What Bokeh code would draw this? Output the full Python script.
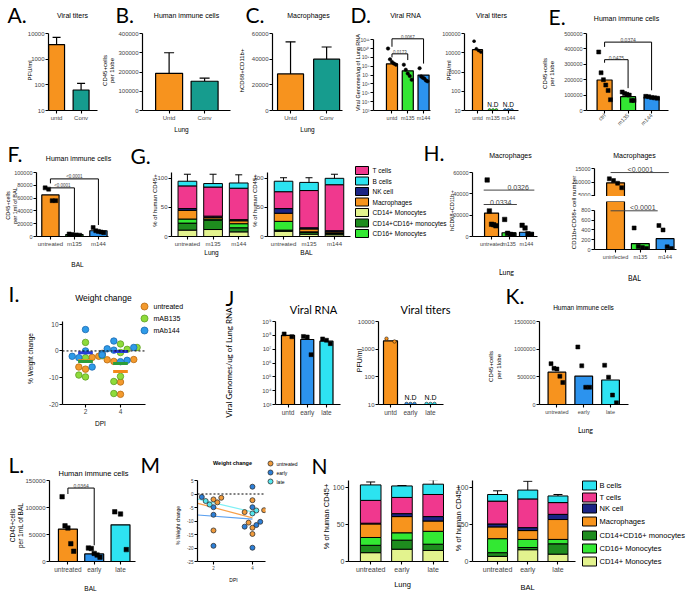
import numpy as np
from bokeh.plotting import figure
from bokeh.layouts import row, column
from bokeh.models import (Range1d, FixedTicker, Label, Whisker, TeeHead, Span,
                          ColumnDataSource, GridBox)
from bokeh.core.properties import value
from bokeh.embed import file_html
from bokeh.resources import INLINE

PI2 = np.pi / 2

# ====================== DATA ======================
a_cats = ["untd", "Conv"]
a_mean = [3700, 63]
a_err = [3400, 52]

b_cats = ["Untd", "Conv"]
b_mean = [193000, 152000]
b_err = [107000, 16000]

c_cats = ["Untd", "Conv"]
c_mean = [28500, 40000]
c_err = [25000, 9500]

d1_cats = ["untd", "m135", "m144"]
d1_mean = [1.9e8, 3.0e7, 1.0e7]
d1_pts = [[1.0e10, 6e8, 3e8, 2e8, 1.5e8], [1.5e8, 4e7, 1.5e7, 8e6, 3e6],
          [6e7, 7e6, 5e6, 4e6, 2.5e6, 2e6]]
d1_pvals = ["0.0173", "0.0067"]
d1_pairs = [(0, 1), (0, 2)]
d1_levels = [10 ** 9.4, 10 ** 11.1]
d1_drops = [(10 ** 9.0, 10 ** 8.7), (10 ** 10.2, 10 ** 8.3)]
d1_ticks = [1e3, 1e4, 1e5, 1e6, 1e7, 1e8, 1e9, 1e10, 1e11]
d1_ticklabels = ["10³", "10⁴", "10⁵", "10⁶", "10⁷", "10⁸", "10⁹", "10¹⁰", "10¹¹"]

d2_cats = ["untd", "m135", "m144"]
d2_mean = [14400, 10, 10]
d2_pts = [[40000, 16000, 13000, 11000], [10.5, 10.5, 10.5], [10.5, 10.5, 10.5]]
d2_notes = ["", "N.D", "N.D"]

e_cats = ["ctrl", "m135", "m144"]
e_mean = [198000, 90000, 87000]
e_pts = [[380000, 245000, 200000, 165000, 130000, 70000],
         [120000, 110000, 105000, 100000, 65000, 65000],
         [92000, 90000, 85000, 82000, 80000]]
e_pvals = ["0.0475", "0.0374"]
e_pairs = [(0, 1), (0, 2)]
e_levels = [330000, 444000]
e_drops = [(310000, 145000), (413000, 131000)]

f_cats = ["untreated", "m135", "m144"]
f_mean = [65000, 3000, 9000]
f_pts = [[76000, 74000, 56000, 56000], [4000, 3000, 2500, 2000],
         [14000, 9000, 8000, 7000, 6000]]
f_pvals = ["<0.0001", "<0.0001"]
f_pairs = [(0, 1), (0, 2)]
f_levels = [76000, 90000]
f_drops = [(76000, 7000), (83000, 18000)]

cell_types = ["CD14+ Monocytes", "CD14+CD16+ monocytes", "CD16+ Monocytes",
              "Macrophages", "NK cell", "T cells", "B cells"]
g_groups = ["untreated", "m135", "m144"]
g_lung = [[11, 12, 8], [12, 16, 7], [7, 2, 7], [15, 3, 5], [3, 2, 2], [39, 50, 54], [8, 6, 9]]
g_lung_err = [[3, 2, 2], [5, 0, 3], [4, 0, 3], [6, 4, 2], [7, 5, 5], [0, 0, 0], [12, 16, 14]]
g_bal = [[9, 4, 3], [2, 3, 2], [15, 1, 1], [14, 5, 2], [8, 2, 2], [29, 64, 79], [18, 14, 11]]
g_bal_err = [[0, 0, 0], [3, 2, 1], [3, 0, 0], [8, 3, 1], [8, 5, 2], [0, 0, 0], [6, 8, 7]]

h1_cats = ["untreated", "m135", "m144"]
h1_mean = [22000, 3500, 4000]
h1_pts = [[53000, 24000, 11500, 11000, 10000], [16000, 3000, 2000, 1500],
          [10500, 8000, 2500, 1500]]
h1_pvals = ["0.0334", "0.0326"]
h1_pairs = [(0, 1), (0, 2)]
h1_levels = [30000, 43500]

h2_cats = ["uninfected", "m135", "m144"]
h2_mean = [9750, 120, 220]
h2_pts = [[11250, 10600, 9600, 7900], [440, 60, 40, 20], [490, 400, 54, 20]]
h2_pvals = ["<0.0001", "<0.0001"]
h2_levels = [13600, 790]

i_groups = ["untreated", "mAB135", "mAb144"]
i_dpis = [2, 4]
i_dpi2 = [[-0.9, -2.0, -2.4, -6.0, -6.8], [3.2, -1.8, -2.5, -9.0, -9.7],
          [8.0, 0.0, -1.0, -1.5, -2.0, -2.5, -6.0]]
i_dpi4 = [[-3.2, -3.3, -3.9, -11.6, -16.2], [2.6, 1.3, 0.6, -0.6, -9.5, -11.4, -15.9],
          [3.7, 1.3, 0.8, 0.3, -3.5, -4.0]]

j_cats = ["untd", "early", "late"]
j1_mean = [1.0e8, 5.0e7, 3.8e7]
j1_pts = [[1.26e8, 7.9e7], [8.3e7, 7.6e7, 4.0e6], [5.5e7, 4.4e7, 2.5e7]]
j1_ticks = [1e3, 1e4, 1e5, 1e6, 1e7, 1e8, 1e9]
j1_ticklabels = ["10³", "10⁴", "10⁵", "10⁶", "10⁷", "10⁸", "10⁹"]
j2_mean = [2000, 10, 10]
j2_pts = [[2400, 1900], [10.5, 10.5, 10.5], [10.5, 10.5, 10.5]]
j2_notes = ["", "N.D", "N.D"]

k_cats = ["untreated", "early", "late"]
k_mean = [585000, 511000, 443000]
k_pts = [[738000, 653000, 642000, 511000, 398000], [1040000, 699000, 312000, 312000],
         [710000, 494000, 170000, 30000]]

l_cats = ["untreated", "early", "late"]
l_mean = [60000, 14000, 68000]
l_pts = [[120000, 66000, 62000, 33000, 19000], [25000, 24000, 15000, 12000, 8000],
         [92000, 88000, 22000]]
l_pvals = ["0.0364"]
l_pairs = [(0, 1)]
l_levels = [136000]
l_drops = [(125000, 30000)]

m_groups = ["untreated", "early", "late"]
m_dpis = [2, 4]
m_dpi2 = [[-1.4, -2.0, -3.1, -13.5], [-1.1, -4.9, -7.7, -19.2], [-2.6, -3.9]]
m_dpi4 = [[-2.3, -6.0, -6.7, -10.6, -12.5, -14.8], [2.7, -4.9, -10.3, -11.5, -12.1, -19.9],
          [-6.1, -7.2]]

n_groups = ["untreated", "early", "late"]
n_lung = [[12, 16.7, 15], [10, 12.3, 8.5], [10.6, 10, 17.5], [18.4, 22, 14],
          [1, 4, 6], [31, 22, 30], [21, 15.6, 14]]
n_lung_err = [[0, 0, 0], [4, 5, 3], [4, 4, 0], [3, 3, 10], [4, 6, 2], [3, 6, 0], [4, 0.5, 6]]
n_bal = [[7, 16, 10], [5, 3, 14], [19, 11, 6], [16, 12, 27], [4, 4, 7], [31, 39, 16], [9, 12, 9]]
n_bal_err = [[0, 0, 3], [4, 2, 0], [0, 4, 5], [12, 6, 0], [5, 5, 5], [0, 0, 0], [5, 12, 2]]

# ====================== STYLE ======================
PR = "Liberation Sans"
CAL = "Lato"
ORANGE = "#F7931E"
TEAL = "#169C8E"
GREEN = "#33E633"
BLUE = "#2C93EE"
CYAN = "#2EE3F2"
cell_colors = ["#E3F38E", "#1E8C1E", "#33E833", "#F7941D", "#1B2484", "#F0388E", "#2CE3F0"]


def mkfig(w, h, xr, yr, left, right, top, bottom, ylog=False, xaxis=True):
    p = figure(width=w, height=h, x_range=Range1d(*xr), y_range=Range1d(*yr),
               y_axis_type="log" if ylog else "linear",
               x_axis_location="below" if xaxis else None,
               output_backend="svg", toolbar_location=None,
               min_border_left=left, min_border_right=right,
               min_border_top=top, min_border_bottom=bottom)
    p.outline_line_color = None
    p.grid.visible = False
    for ax in p.axis:
        ax.axis_line_width = 1.2
        ax.axis_line_color = "black"
        ax.major_tick_line_width = 1.1
        ax.major_tick_out = 3
        ax.major_tick_in = 0
        ax.minor_tick_line_color = None
        ax.major_label_text_font = PR
        ax.major_label_text_font_size = "6px"
        ax.major_label_standoff = 1
    return p


def set_x(p, cats, size="6px", orient=None):
    p.xaxis.ticker = FixedTicker(ticks=list(range(len(cats))))
    p.xaxis.major_label_overrides = {i: c for i, c in enumerate(cats)}
    p.xaxis.major_label_text_font_size = size
    if orient is not None:
        p.xaxis.major_label_orientation = orient


def set_y(p, ticks, labels, size="6px"):
    p.yaxis.ticker = FixedTicker(ticks=ticks)
    p.yaxis.major_label_overrides = {t: l for t, l in zip(ticks, labels)}
    p.yaxis.major_label_text_font_size = size


def bars(p, means, colors, width, bottom=0, lw=1.2):
    src = ColumnDataSource(dict(x=list(range(len(means))), top=means, c=colors))
    p.vbar(x="x", top="top", bottom=bottom, width=width, fill_color="c",
           line_color="black", line_width=lw, source=src)


def err_up(p, means, errs, hs=8):
    src = ColumnDataSource(dict(x=list(range(len(means))), lo=means,
                                hi=[m + e for m, e in zip(means, errs)]))
    p.add_layout(Whisker(source=src, base="x", lower="lo", upper="hi", line_width=1.2,
                         line_color="black",
                         upper_head=TeeHead(size=hs, line_width=1.2, line_color="black"),
                         lower_head=None))


def points(p, pts, spread, marker="square", size=4, colors=None):
    xs, ys, cs = [], [], []
    for i, vals in enumerate(pts):
        n = len(vals)
        offs = np.linspace(-spread, spread, n) if n > 1 else [0.0]
        xs += list(i + np.asarray(offs))
        ys += list(vals)
        cs += [colors[i] if colors else "black"] * n
    p.scatter(xs, ys, marker=marker, size=size, fill_color=cs, line_color="black",
              line_width=0.5)


def brackets(p, pvals, pairs, levels, drops, fsize="5px"):
    for t, (i, j), lv, (di, dj) in zip(pvals, pairs, levels, drops):
        p.line([i, i, j, j], [di, lv, lv, dj], line_color="black", line_width=1)
        p.add_layout(Label(x=(i + j) / 2, y=lv, text=t, text_align="center",
                           text_baseline="bottom", text_font_size=fsize, text_font=PR))


def stacked(p, vals, errs, width, hs=7):
    n = len(vals[0])
    names = ["s%d" % k for k in range(len(vals))]
    data = {"x": list(range(n))}
    for nm, v in zip(names, vals):
        data[nm] = v
    src = ColumnDataSource(data)
    rs = p.vbar_stack(names, x="x", width=width, fill_color=cell_colors,
                      line_color="black", line_width=1, source=src)
    cum = np.zeros(n)
    xs, lo, hi = [], [], []
    for v, e in zip(vals, errs):
        cum = cum + np.array(v, dtype=float)
        for k in range(n):
            if e[k] > 0:
                xs.append(k)
                lo.append(cum[k] - e[k])
                hi.append(cum[k] + e[k])
    wsrc = ColumnDataSource(dict(x=xs, lo=lo, hi=hi))
    p.add_layout(Whisker(source=wsrc, base="x", lower="lo", upper="hi", line_width=1,
                         line_color="black",
                         upper_head=TeeHead(size=hs, line_width=1, line_color="black"),
                         lower_head=TeeHead(size=hs, line_width=1, line_color="black")))
    return rs


def swarm(vals, xpx, ypx, d=6.0, step=0.17):
    placed = []
    offs = [0.0] * len(vals)
    order = np.argsort(vals)
    cands = [0, -1, 1, -2, 2, -3, 3, -4, 4, -5, 5]
    for k in order:
        ox = 0.0
        for c in cands:
            ox = c * step
            if all(((ox - px) * xpx) ** 2 + ((vals[k] - py) * ypx) ** 2 >= d * d
                   for px, py in placed):
                break
        placed.append((ox, vals[k]))
        offs[k] = ox
    return offs


def lin_ticks(ticks):
    return [str(int(t)) for t in ticks]


# ====================== OVERLAY (all free text, legends) ======================
W, H = 686, 598
ov = figure(width=W, height=H, x_range=Range1d(0, W), y_range=Range1d(H, 0),
            x_axis_location=None, y_axis_location=None, output_backend="svg",
            toolbar_location=None, min_border=0)
ov.outline_line_color = None
ov.background_fill_alpha = 0
ov.border_fill_alpha = 0
ov.xgrid.visible = False
ov.ygrid.visible = False
for gr in ov.grid:
    gr.visible = False


def T(x, y, text, size="7px", font=PR, align="center", angle=0.0, style="normal"):
    ov.text(x=[x], y=[y], text=[text], text_font_size=size, text_font=value(font),
            text_align=align, text_baseline="middle", angle=angle,
            text_font_style=style, text_color="black")


def letter(x, y, t):
    T(x, y, t, size="21px", font=CAL, align="left")


# ====================== ROW 1 ======================
pA = mkfig(100, 135, (-0.33, 1.67), (10, 10000), 48, 3, 28, 25, ylog=True)
set_y(pA, [10, 100, 1000, 10000], ["10", "100", "1000", "10000"])
set_x(pA, a_cats)
bars(pA, a_mean, [ORANGE, TEAL], 0.65, bottom=10)
err_up(pA, a_mean, a_err, 8)
letter(7, 14, "A.")
T(72, 15, "Viral titers")
T(29, 70, "PFU/ml", size="6px", angle=PI2)

pB = mkfig(132, 135, (-0.75, 1.73), (0, 400000), 42, 2, 29, 24)
bt = [0, 100000, 200000, 300000, 400000]
set_y(pB, bt, lin_ticks(bt))
set_x(pB, b_cats)
bars(pB, b_mean, [ORANGE, TEAL], 0.76)
err_up(pB, b_mean, b_err, 10)
letter(115, 14, "B.")
T(186, 15, "Human immune cells")
T(104, 70, "CD45+cells", size="6px", angle=PI2)
T(111, 70, "per 1lobe", size="6px", angle=PI2)
T(181, 129, "Lung", size="6.5px")

pC = mkfig(113, 135, (-0.5, 1.44), (0, 60000), 40, 3, 29, 25)
ct = [0, 20000, 40000, 60000]
set_y(pC, ct, lin_ticks(ct))
set_x(pC, c_cats)
bars(pC, c_mean, [ORANGE, TEAL], 0.72)
err_up(pC, c_mean, c_err, 10)
letter(245, 14, "C.")
T(308, 15, "Macrophages")
T(241, 70, "hCD68+CD11b+", size="6px", angle=PI2)
T(307, 129, "Lung", size="6.5px")

pD1 = mkfig(91, 135, (-1.17, 2.44), (1e3, 10 ** 11.7), 28, 6, 26, 23, ylog=True)
set_y(pD1, d1_ticks, d1_ticklabels, size="5px")
pD1.yaxis.bounds = (1e3, 1e11)
set_x(pD1, d1_cats, size="5.5px")
bars(pD1, d1_mean, [ORANGE, GREEN, BLUE], 0.7, bottom=1e3)
points(pD1, d1_pts, 0.25, marker="circle", size=3.5)
brackets(pD1, d1_pvals, d1_pairs, d1_levels, d1_drops, fsize="4.5px")
letter(350, 14, "D.")
T(405, 15, "Viral RNA")
T(357, 72, "Viral Genomes/ug of Lung RNA", size="5.5px", angle=PI2)

pD2 = mkfig(92, 135, (-0.84, 2.65), (10, 100000), 28, 10, 29, 23, ylog=True)
set_y(pD2, [10, 100, 1000, 10000, 100000], ["10", "100", "1000", "10000", "100000"],
      size="5.5px")
set_x(pD2, d2_cats, size="5.5px")
bars(pD2, d2_mean, [ORANGE, GREEN, BLUE], 0.65, bottom=10)
points(pD2, d2_pts, 0.22, marker="circle", size=3, colors=["black", GREEN, BLUE])
pD2.text(x=[0, 1, 2], y=[13, 13, 13], text=d2_notes, text_align="center",
         text_baseline="bottom", text_font_size="6.5px", text_font=value(PR))
T(491, 15, "Viral titers")
T(448, 70, "PFU/ml", size="6px", angle=PI2)

pE = mkfig(158, 135, (-0.77, 2.72), (0, 500000), 58, 18, 33, 22)
et = [0, 100000, 200000, 300000, 400000, 500000]
set_y(pE, et, lin_ticks(et), size="5.5px")
set_x(pE, e_cats, size="5.5px", orient=np.pi / 4)
bars(pE, e_mean, [ORANGE, GREEN, BLUE], 0.64)
points(pE, e_pts, 0.25, size=4)
brackets(pE, e_pvals, e_pairs, e_levels, e_drops, fsize="5px")
letter(548, 16, "E.")
T(626, 18, "Human immune cells")
T(544, 73, "CD45+cells", size="6px", angle=PI2)
T(551, 73, "per 1lobe", size="6px", angle=PI2)

# ====================== ROW 2 ======================
R2H = 147
pF = mkfig(133, R2H, (-0.58, 2.42), (0, 100000), 36, 25, 37, 44)
ft = [0, 20000, 40000, 60000, 80000, 100000]
set_y(pF, ft, lin_ticks(ft), size="5.5px")
set_x(pF, f_cats, size="6px")
bars(pF, f_mean, [ORANGE, GREEN, BLUE], 0.72)
points(pF, f_pts, 0.22, size=4)
brackets(pF, f_pvals, f_pairs, f_levels, f_drops, fsize="4.5px")
letter(7, 153, "F.")
T(78, 158, "Human immune cells")
T(7, 205, "CD45+cells", size="5.5px", angle=PI2)
T(14, 205, "per 1ml of BAL", size="5.5px", angle=PI2)
T(77, 264, "BAL", size="6.5px")

pG1 = mkfig(117, R2H, (-0.62, 2.42), (0, 110), 38, 1, 23, 46)
set_y(pG1, [0, 50, 100], ["0", "50", "100"])
set_x(pG1, g_groups, size="6px")
stacked(pG1, g_lung, g_lung_err, 0.73)
letter(130, 155, "G.")
T(154, 200, "% of human CD45+", size="6px", angle=PI2)
T(211, 252, "Lung", size="6.5px")

pG2 = mkfig(195, R2H, (-0.63, 2.63), (0, 110), 17, 95, 23, 46)
set_y(pG2, [0, 50, 100], ["0", "50", "100"])
set_x(pG2, g_groups, size="6px")
stacked(pG2, g_bal, g_bal_err, 0.73)
T(254, 200, "% of human CD45+", size="6px", angle=PI2)
T(306, 252, "BAL", size="6.5px")
letter(423, 152, "H.")
g_order = [5, 6, 4, 3, 0, 1, 2]
for n, k in enumerate(g_order):
    yy = 170 + n * 10.5
    ov.rect(x=[361.5], y=[yy], width=13, height=8, fill_color=cell_colors[k],
            line_color="black", line_width=1)
    T(372, yy, cell_types[k], size="6.5px", align="left")

pH1 = mkfig(115, R2H, (-1.09, 2.63), (0, 60000), 27, 23, 34, 33)
ht = [0, 20000, 40000, 60000]
set_y(pH1, ht, lin_ticks(ht), size="5.5px")
set_x(pH1, h1_cats, size="5.5px")
bars(pH1, h1_mean, [ORANGE, GREEN, BLUE], 0.8)
points(pH1, h1_pts, 0.25, size=4.5)
for t, (i, j), lv in zip(h1_pvals, h1_pairs, h1_levels):
    pH1.line([i - 0.45, j + 0.45], [lv, lv], line_color="#444", line_width=1)
    pH1.add_layout(Label(x=j - 0.48, y=lv, text=t, text_align="center",
                         text_baseline="bottom", text_font_size="7px", text_font=PR))
T(510, 155, "Macrophages")
T(451, 210, "hCD68+CD11b+", size="5.5px", angle=PI2)
T(506, 271, "Lung", size="7px", font=CAL)

pH2t = mkfig(126, 61, (-0.85, 2.46), (4600, 17000), 34, 10, 28, 0, xaxis=False)
set_y(pH2t, [5000, 10000, 15000], ["5000", "10000", "15000"], size="5.5px")
pH2t.yaxis.bounds = (4600, 15000)
bars(pH2t, h2_mean, [ORANGE, GREEN, BLUE], 0.72)
points(pH2t, h2_pts, 0.25, size=4)
pH2t.line([-0.2, 2.15], [h2_levels[0]] * 2, line_color="#444", line_width=1)
pH2t.add_layout(Label(x=1.0, y=h2_levels[0], text=h2_pvals[0], text_align="center",
                      text_baseline="bottom", text_font_size="7px", text_font=PR))
T(634, 155, "Macrophages")

pH2b = mkfig(126, 86, (-0.85, 2.46), (0, 980), 34, 10, 5, 33)
h2bt = [0, 200, 400, 600, 800]
set_y(pH2b, h2bt, lin_ticks(h2bt), size="5.5px")
pH2b.yaxis.bounds = (0, 800)
set_x(pH2b, h2_cats, size="5.5px")
bars(pH2b, h2_mean, [ORANGE, GREEN, BLUE], 0.72)
points(pH2b, h2_pts, 0.25, size=4)
pH2b.line([-0.2, 1.7], [h2_levels[1]] * 2, line_color="#444", line_width=1)
pH2b.add_layout(Label(x=1.1, y=h2_levels[1], text=h2_pvals[1], text_align="center",
                      text_baseline="bottom", text_font_size="7px", text_font=PR))
T(573, 212, "CD11b+CD68+ cell number", size="6px", angle=PI2)
T(634, 277, "BAL", size="7px", font=CAL)

# ====================== ROW 3 ======================
R3H = 150
pI = mkfig(222, R3H, (0.686, 5.43), (-20, 11), 62, 77, 27, 28)
set_y(pI, [-20, -10, 0, 10], ["-20", "-10", "0", "10"], size="6.5px")
pI.xaxis.ticker = FixedTicker(ticks=i_dpis)
pI.xaxis.major_label_overrides = {d: str(d) for d in i_dpis}
pI.xaxis.major_label_text_font_size = "6.5px"
pI.add_layout(Span(location=0, dimension="width", line_dash="2 2", line_color="black",
                   line_width=1))
i_fill = ["#F39A2D", "#8EDB3A", "#2E9BE8"]
i_line = ["#B86A10", "#5E9E25", "#1C68B0"]
i_meancol = ["#F28A1A", "#2A9D3A", "#2A3FD8"]
i_x = [[], [], []]
i_y = [[], [], []]
for d, gvals in zip(i_dpis, [i_dpi2, i_dpi4]):
    allv, gid = [], []
    for g, vals in enumerate(gvals):
        allv += vals
        gid += [g] * len(vals)
    offs = swarm(allv, 17.5, 3.07, 6.0, 0.19)
    for v, g, o in zip(allv, gid, offs):
        i_x[g].append(d + o)
        i_y[g].append(v)
for g in range(3):
    pI.scatter(i_x[g], i_y[g], marker="circle", size=6.5, fill_color=i_fill[g],
               line_color=i_line[g], line_width=0.8)
for d, gvals in zip(i_dpis, [i_dpi2, i_dpi4]):
    for g, vals in enumerate(gvals):
        m = float(np.mean(vals))
        pI.segment(x0=[d - 0.42], x1=[d + 0.42], y0=[m], y1=[m], line_color=i_meancol[g],
                   line_width=3)
for g in range(3):
    yy = 306 + g * 12
    ov.scatter(x=[144], y=[yy], marker="circle", size=7, fill_color=i_fill[g],
               line_color=i_line[g], line_width=0.8)
    T(153, yy, i_groups[g], size="7px", align="left")
letter(8, 293, "I.")
T(103, 297, "Weight change", size="8.5px")
T(30, 358, "% Weight change", size="6.5px", angle=PI2)
T(100, 423, "DPI", size="6.5px")

pJ1 = mkfig(128, R3H, (-0.65, 2.73), (1e3, 1e9), 53, 10, 30, 20, ylog=True)
set_y(pJ1, j1_ticks, j1_ticklabels, size="6px")
set_x(pJ1, j_cats, size="6.5px")
bars(pJ1, j1_mean, [ORANGE, BLUE, CYAN], 0.68, bottom=1e3)
points(pJ1, j1_pts, 0.2, size=4)
letter(225, 297, "J")
T(313, 309, "Viral RNA", size="11px", font=CAL)
T(228, 362, "Viral Genomes/ug of Lung RNA", size="8px", font=CAL, angle=PI2)

pJ2 = mkfig(100, R3H, (-0.6, 2.65), (10, 10000), 28, 7, 30, 20, ylog=True)
set_y(pJ2, [10, 100, 1000, 10000], ["10", "100", "1000", "10000"], size="6px")
set_x(pJ2, j_cats, size="6.5px")
bars(pJ2, j2_mean, [ORANGE, BLUE, CYAN], 0.7, bottom=10)
points(pJ2, j2_pts, 0.2, marker="circle", size=3.5, colors=[ORANGE, BLUE, CYAN])
pJ2.text(x=[0, 1, 2], y=[13, 13, 13], text=j2_notes, text_align="center",
         text_baseline="bottom", text_font_size="7px", text_font=value(PR))
T(425, 309, "Viral titers", size="11px", font=CAL)
T(359, 360, "PFU/ml", size="7px", angle=PI2)

pK = mkfig(236, R3H, (-0.65, 2.67), (0, 1500000), 89, 58, 39, 22)
kt = [0, 500000, 1000000, 1500000]
set_y(pK, kt, lin_ticks(kt), size="5.5px")
set_x(pK, k_cats, size="5.5px")
bars(pK, k_mean, [ORANGE, BLUE, CYAN], 0.66)
points(pK, k_pts, 0.22, size=4)
letter(505, 295, "K.")
T(583, 307, "Human immune cells", size="6.5px")
T(490, 366, "CD45+cells", size="6px", angle=PI2)
T(498, 366, "per 1lobe", size="6px", angle=PI2)
T(585, 429, "Lung", size="7px", font=CAL)

# ====================== ROW 4 ======================
R4H = 166
pL = mkfig(150, R4H, (-0.7, 2.57), (0, 150000), 49, 15, 48, 30)
lt = [0, 50000, 100000, 150000]
set_y(pL, lt, lin_ticks(lt), size="6px")
set_x(pL, l_cats, size="6.5px")
bars(pL, l_mean, [ORANGE, BLUE, CYAN], 0.72)
points(pL, l_pts, 0.22, size=4.5)
brackets(pL, l_pvals, l_pairs, l_levels, l_drops, fsize="5px")
letter(8, 464, "L.")
T(93, 473, "Human immune cells", size="7.5px")
T(12, 525, "CD45+cells", size="6.5px", angle=PI2)
T(20, 525, "per 1mL of BAL", size="6.5px", angle=PI2)
T(90, 588, "BAL", size="6.5px")

pM = mkfig(165, R4H, (1.18, 4.67), (-25, 5), 47, 50, 40, 28)
mt = [-25, -20, -15, -10, -5, 0, 5]
set_y(pM, mt, [str(t) for t in mt], size="4.5px")
pM.xaxis.ticker = FixedTicker(ticks=m_dpis)
pM.xaxis.major_label_overrides = {d: str(d) for d in m_dpis}
pM.xaxis.major_label_text_font_size = "4.5px"
pM.add_layout(Span(location=0, dimension="width", line_dash="2 2", line_color="black",
                   line_width=1))
m_fill = ["#F09A3A", "#2C7FD8", "#56E6EE"]
m_fit = ["#F7A04A", "#5AA0F0", "#7FF0F5"]
m_x = [[], [], []]
m_y = [[], [], []]
for d, gvals in zip(m_dpis, [m_dpi2, m_dpi4]):
    allv, gid = [], []
    for g, vals in enumerate(gvals):
        allv += vals
        gid += [g] * len(vals)
    offs = swarm(allv, 19.5, 3.28, 5.0, 0.2)
    for v, g, o in zip(allv, gid, offs):
        m_x[g].append(d + o)
        m_y[g].append(v)
for g in range(3):
    xx = [d for d, gv in zip(m_dpis, [m_dpi2, m_dpi4]) for _ in gv[g]]
    yy = [v for gv in [m_dpi2, m_dpi4] for v in gv[g]]
    k, b0 = np.polyfit(xx, yy, 1)
    pM.line([1.2, 4.0], [k * 1.2 + b0, k * 4.0 + b0], line_color=m_fit[g], line_width=1.2)
for g in range(3):
    pM.scatter(m_x[g], m_y[g], marker="circle", size=5, fill_color=m_fill[g],
               line_color="#333333", line_width=0.8)
for g in range(3):
    yy = 463 + g * 9
    ov.scatter(x=[270], y=[yy], marker="circle", size=5, fill_color=m_fill[g],
               line_color="#333333", line_width=0.8)
    T(276, yy, m_groups[g], size="5px", align="left")
letter(140, 464, "M")
T(232, 462, "Weight change", size="5.5px", style="bold")
T(177, 525, "% Weight change", size="5px", angle=PI2)
T(233, 579, "DPI", size="5px")

pN1 = mkfig(136, R4H, (-0.71, 2.49), (0, 110), 33, 3, 30, 37)
set_y(pN1, [0, 50, 100], ["0", "50", "100"], size="7px")
set_x(pN1, n_groups, size="7px")
stacked(pN1, n_lung, n_lung_err, 0.66, hs=9)
letter(311, 465, "N")
T(326, 516, "% of human CD45+", size="7.5px", angle=PI2)
T(402, 584, "Lung", size="7.5px")

pN2 = mkfig(235, R4H, (-0.83, 2.58), (0, 110), 21, 111, 30, 34)
set_y(pN2, [0, 50, 100], ["0", "50", "100"], size="7px")
set_x(pN2, n_groups, size="7px")
stacked(pN2, n_bal, n_bal_err, 0.66, hs=9)
T(458, 518, "% of human CD45+", size="7.5px", angle=PI2)
T(527, 587, "BAL", size="7.5px")
n_order = [6, 5, 4, 3, 1, 2, 0]
n_ys = [485, 497, 508, 521, 535, 548, 561]
for k, yy in zip(n_order, n_ys):
    ov.rect(x=[589], y=[yy], width=14, height=9, fill_color=cell_colors[k],
            line_color="black", line_width=1)
    T(599, yy, cell_types[k], size="7.5px", align="left")

main = column(
    row(pA, pB, pC, pD1, pD2, pE),
    row(pF, pG1, pG2, pH1, column(pH2t, pH2b)),
    row(pI, pJ1, pJ2, pK),
    row(pL, pM, pN1, pN2),
)

page = GridBox(children=[(main, 0, 0), (ov, 0, 0)])

open("out.html", "w").write(file_html(page, INLINE))
